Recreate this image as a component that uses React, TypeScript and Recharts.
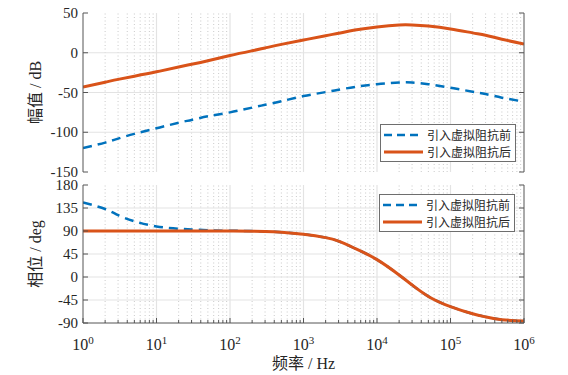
import React from 'react';
import { LineChart, Line, XAxis, YAxis, ReferenceLine, Legend, Label } from 'recharts';

// ---- data ----
const FREQ = [1, 2, 3, 5, 10, 20, 30, 50, 100, 200, 300, 500, 1e3, 2e3, 3e3, 5e3, 1e4, 2e4, 3e4, 5e4, 1e5, 2e5, 3e5, 5e5, 1e6];
const MAG_BEFORE = [-120, -113, -108, -102, -95, -88, -84.5, -80, -75, -69, -65.5, -61, -54.5, -49.5, -46.5, -43, -39.5, -37.5, -37.5, -39.5, -44, -49, -52, -56.5, -61.5];
const MAG_AFTER = [-43, -37, -33.5, -29.5, -24, -18, -14.5, -10, -3.5, 2.5, 6, 10.5, 16, 21.5, 24.5, 28.5, 32.5, 35, 35, 33.5, 30, 25, 22, 17, 11];
const PHASE_BEFORE = [146, 133, 121, 109, 99, 94.5, 93, 91.5, 90.5, 90, 89, 87.5, 83.5, 77, 70, 56, 34, 4, -15.5, -38, -58, -72, -78, -83.5, -86];
const PHASE_AFTER = [90, 90, 90, 90, 90, 90, 90, 90, 90, 89.5, 89, 87.5, 83.5, 77, 70, 56, 34, 4, -15.5, -38, -58, -72, -78, -83.5, -86];

const MAG_TICKS = [-150, -100, -50, 0, 50];
const PHASE_TICKS = [-90, -45, 0, 45, 90, 135, 180];
const MAJOR_X = [1, 10, 100, 1e3, 1e4, 1e5, 1e6];
const MAJOR_EXP = ['0', '1', '2', '3', '4', '5', '6'];
const MINOR_MULT = [2, 3, 4, 5, 6, 7, 8, 9];
const MINOR_X = MAJOR_X.slice(0, 6).flatMap((d) => MINOR_MULT.map((m) => m * d));
const X_TICKS = [...MAJOR_X, ...MINOR_X].sort((a, b) => a - b);

const SERIES_BEFORE = '引入虚拟阻抗前';
const SERIES_AFTER = '引入虚拟阻抗后';
const MAG_LABEL = '幅值 / dB';
const PHASE_LABEL = '相位 / deg';
const X_LABEL = '频率 / Hz';

const data = FREQ.map((f, i) => ({
  f,
  magB: MAG_BEFORE[i],
  magA: MAG_AFTER[i],
  phB: PHASE_BEFORE[i],
  phA: PHASE_AFTER[i],
}));

// ---- styles ----
const BLUE = '#0072BD';
const ORANGE = '#D95319';
const AXIS = '#555555';
const TEXT = '#262626';
const GRID = '#e3e3e3';
const MINOR_GRID = '#bdbdbd';
const FONT = '"Liberation Serif", "Times New Roman", serif';
const CJK = '"Liberation Serif", "Noto Sans CJK SC", sans-serif';

function XTick(props: any) {
  const { x, y, payload, dir, showLabel } = props;
  const v = payload.value;
  const mi = MAJOR_X.indexOf(v);
  const major = mi >= 0;
  const len = major ? 5 : 3;
  return (
    <g>
      <line x1={x} x2={x} y1={y} y2={y + dir * len} stroke={AXIS} strokeWidth={1} />
      {showLabel && major && (
        <text x={x} y={y + 27} textAnchor="middle" fontFamily={FONT} fontSize={16} fill={TEXT}>
          10
          <tspan dy={-6} fontSize={11}>{MAJOR_EXP[mi]}</tspan>
        </text>
      )}
    </g>
  );
}

function YTick(props: any) {
  const { x, y, payload, dir, showLabel } = props;
  return (
    <g>
      <line x1={x} x2={x + dir * 5} y1={y} y2={y} stroke={AXIS} strokeWidth={1} />
      {showLabel && (
        <text x={x - 5} y={y + 5} textAnchor="end" fontFamily={FONT} fontSize={15} fill={TEXT}>
          {payload.value}
        </text>
      )}
    </g>
  );
}

function LegendBox() {
  return (
    <svg width={136} height={38} style={{ display: 'block' }}>
      <rect x={0.5} y={0.5} width={135} height={37} fill="#fff" stroke="#6e6e6e" strokeWidth={1} />
      <line x1={4} x2={43} y1={11} y2={11} stroke={BLUE} strokeWidth={2.5} strokeDasharray="8 5" />
      <text x={47} y={15.5} fontFamily={CJK} fontSize={12} fill={TEXT}>{SERIES_BEFORE}</text>
      <line x1={4} x2={43} y1={28} y2={28} stroke={ORANGE} strokeWidth={3} />
      <text x={47} y={32.5} fontFamily={CJK} fontSize={12} fill={TEXT}>{SERIES_AFTER}</text>
    </svg>
  );
}

function yLabel(text: string) {
  return (p: any) => {
    const vb = p.viewBox || {};
    const cx = 35;
    const cy = vb.y + vb.height / 2;
    return (
      <text x={cx} y={cy} transform={`rotate(-90 ${cx} ${cy})`} textAnchor="middle" dominantBaseline="central" fontFamily={CJK} fontSize={16} fill={TEXT}>
        {text}
      </text>
    );
  };
}

function gridLines(yTicks: number[]) {
  const els: any[] = [];
  MINOR_X.forEach((v) =>
    els.push(<ReferenceLine key={'mx' + v} x={v} stroke={MINOR_GRID} strokeWidth={0.8} strokeDasharray="1 2.5" />)
  );
  MAJOR_X.slice(1, 6).forEach((v) =>
    els.push(<ReferenceLine key={'Mx' + v} x={v} stroke={GRID} strokeWidth={1.2} />)
  );
  yTicks.slice(1, yTicks.length - 1).forEach((v) =>
    els.push(<ReferenceLine key={'y' + v} y={v} stroke={GRID} strokeWidth={1.2} />)
  );
  return els;
}

function axes(yDomain: number[], yTicks: number[], bottomHeight: number, showXLabels: boolean, yText: string) {
  return [
    <XAxis
      key="xb"
      dataKey="f"
      type="number"
      scale="log"
      domain={[1, 1e6]}
      allowDataOverflow
      ticks={X_TICKS}
      interval={0}
      tickSize={0}
      tickMargin={0}
      height={bottomHeight}
      tickLine={false}
      axisLine={{ stroke: AXIS, strokeWidth: 1 }}
      tick={(p: any) => <XTick {...p} dir={-1} showLabel={showXLabels} />}
      label={showXLabels ? (
        <Label
          content={(p: any) => {
            const vb = p.viewBox || {};
            return (
              <text x={vb.x + vb.width / 2} y={vb.y + 46} textAnchor="middle" fontFamily={CJK} fontSize={16} fill={TEXT}>
                {X_LABEL}
              </text>
            );
          }}
        />
      ) : undefined}
    />,
    <XAxis
      key="xt"
      xAxisId="t"
      orientation="top"
      dataKey="f"
      type="number"
      scale="log"
      domain={[1, 1e6]}
      allowDataOverflow
      ticks={X_TICKS}
      interval={0}
      tickSize={0}
      tickMargin={0}
      height={0}
      tickLine={false}
      axisLine={{ stroke: AXIS, strokeWidth: 1 }}
      tick={(p: any) => <XTick {...p} dir={1} showLabel={false} />}
    />,
    <YAxis
      key="yl"
      type="number"
      domain={yDomain}
      ticks={yTicks}
      interval={0}
      allowDataOverflow
      width={83}
      tickSize={0}
      tickMargin={0}
      tickLine={false}
      axisLine={{ stroke: AXIS, strokeWidth: 1 }}
      tick={(p: any) => <YTick {...p} dir={1} showLabel />}
      label={<Label content={yLabel(yText)} />}
    />,
    <YAxis
      key="yr"
      yAxisId="r"
      orientation="right"
      type="number"
      domain={yDomain}
      ticks={yTicks}
      interval={0}
      allowDataOverflow
      width={44}
      tickSize={0}
      tickMargin={0}
      tickLine={false}
      axisLine={{ stroke: AXIS, strokeWidth: 1 }}
      tick={(p: any) => <YTick {...p} dir={-1} showLabel={false} />}
    />,
  ];
}

export default function App() {
  return (
    <div style={{ position: 'absolute', left: 0, top: 0, width: 568, height: 375, background: '#fff' }}>
      <div style={{ position: 'absolute', left: 0, top: 0 }}>
        <LineChart width={568} height={180} data={data} margin={{ top: 13, right: 0, bottom: 8, left: 0 }}>
          {axes([-150, 50], MAG_TICKS, 0, false, MAG_LABEL)}
          {gridLines(MAG_TICKS)}
          <Line dataKey="magB" name={SERIES_BEFORE} type="natural" stroke={BLUE} strokeWidth={2.5} strokeDasharray="9 6" dot={false} isAnimationActive={false} />
          <Line dataKey="magA" name={SERIES_AFTER} type="natural" stroke={ORANGE} strokeWidth={3} dot={false} isAnimationActive={false} />
          <Legend layout="vertical" align="center" verticalAlign="middle" content={() => <LegendBox />} wrapperStyle={{ left: 380, top: 124, width: 136, height: 38 }} />
        </LineChart>
      </div>
      <div style={{ position: 'absolute', left: 0, top: 175 }}>
        <LineChart width={568} height={200} data={data} margin={{ top: 10, right: 0, bottom: 0, left: 0 }}>
          {axes([-90, 180], PHASE_TICKS, 52, true, PHASE_LABEL)}
          {gridLines(PHASE_TICKS)}
          <Line dataKey="phB" name={SERIES_BEFORE} type="natural" stroke={BLUE} strokeWidth={2.5} strokeDasharray="9 6" dot={false} isAnimationActive={false} />
          <Line dataKey="phA" name={SERIES_AFTER} type="natural" stroke={ORANGE} strokeWidth={3} dot={false} isAnimationActive={false} />
          <Legend layout="vertical" align="center" verticalAlign="middle" content={() => <LegendBox />} wrapperStyle={{ left: 379, top: 19, width: 136, height: 38 }} />
        </LineChart>
      </div>
    </div>
  );
}
